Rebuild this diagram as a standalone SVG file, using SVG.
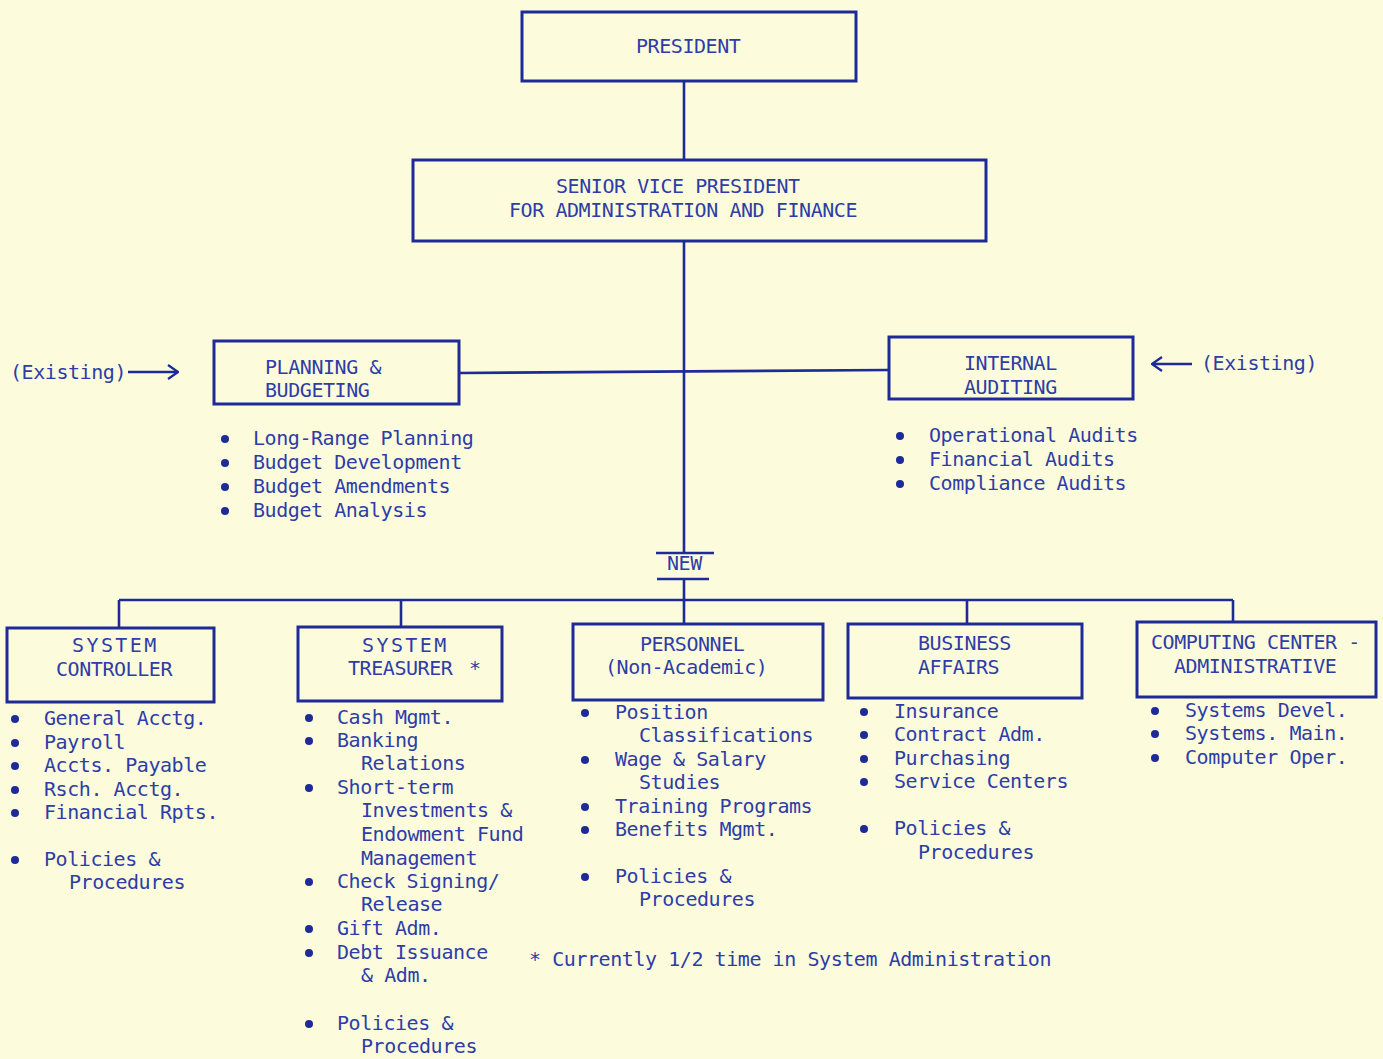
<svg xmlns="http://www.w3.org/2000/svg" width="1383" height="1059" viewBox="0 0 1383 1059">
<defs>
<style>
.bg{fill:#fcfcdc}
.box{fill:none;stroke:#1e2a98;stroke-width:3}
.ln{fill:none;stroke:#1e2a98;stroke-width:2.6}
text{font-family:"DejaVu Sans Mono","Liberation Mono",monospace;font-size:20px;letter-spacing:-0.44px;fill:#2e3ca8}
.sp{letter-spacing:2.4px}
.b{fill:#1e2a98}
</style>
<marker id="ah" viewBox="0 0 12 16" refX="11" refY="8" markerWidth="12" markerHeight="16" markerUnits="userSpaceOnUse" orient="auto">
<path d="M1,1 L11,8 L1,15" fill="none" stroke="#1e2a98" stroke-width="2.2"/>
</marker>
</defs>
<rect class="bg" x="0" y="0" width="1383" height="1059"/>

<g id="connectors">
<line class="ln" x1="684" y1="81" x2="684" y2="160"/>
<line class="ln" x1="684" y1="241" x2="684" y2="553"/>
<line class="ln" x1="459" y1="373" x2="889" y2="370"/>
<line class="ln" x1="656" y1="553" x2="714" y2="553"/>
<line class="ln" x1="657" y1="579" x2="709" y2="579"/>
<line class="ln" x1="684" y1="579" x2="684" y2="624"/>
<line class="ln" x1="119" y1="600" x2="1233" y2="600"/>
<line class="ln" x1="119" y1="600" x2="119" y2="628"/>
<line class="ln" x1="401" y1="600" x2="401" y2="627"/>
<line class="ln" x1="967" y1="600" x2="967" y2="624"/>
<line class="ln" x1="1233" y1="600" x2="1233" y2="622"/>
<line class="ln" x1="128" y1="372" x2="178" y2="372" marker-end="url(#ah)"/>
<line class="ln" x1="1192" y1="364" x2="1152" y2="364" marker-end="url(#ah)"/>
</g>
<text x="667" y="570">NEW</text>
<text x="10" y="379">(Existing)</text>
<text x="1201" y="370">(Existing)</text>

<g id="president">
<rect class="box" x="522" y="12" width="334" height="69"/>
<text x="636" y="53">PRESIDENT</text>
</g>

<g id="svp">
<rect class="box" x="413" y="160" width="573" height="81"/>
<text x="556" y="193">SENIOR VICE PRESIDENT</text>
<text x="509" y="217">FOR ADMINISTRATION AND FINANCE</text>
</g>

<g id="planning">
<rect class="box" x="214" y="341" width="245" height="63"/>
<text x="265" y="374">PLANNING &amp;</text>
<text x="265" y="397">BUDGETING</text>
<circle class="b" cx="225" cy="439" r="4"/>
<circle class="b" cx="225" cy="463" r="4"/>
<circle class="b" cx="225" cy="487" r="4"/>
<circle class="b" cx="225" cy="511" r="4"/>
<text x="253" y="445">Long-Range Planning</text>
<text x="253" y="469">Budget Development</text>
<text x="253" y="493">Budget Amendments</text>
<text x="253" y="517">Budget Analysis</text>
</g>

<g id="auditing">
<rect class="box" x="889" y="337" width="244" height="62"/>
<text x="964" y="370">INTERNAL</text>
<text x="964" y="394">AUDITING</text>
<circle class="b" cx="900" cy="436" r="4"/>
<circle class="b" cx="900" cy="460" r="4"/>
<circle class="b" cx="900" cy="484" r="4"/>
<text x="929" y="442">Operational Audits</text>
<text x="929" y="466">Financial Audits</text>
<text x="929" y="490">Compliance Audits</text>
</g>

<g id="controller">
<rect class="box" x="7" y="628" width="207" height="74"/>
<text class="sp" x="72" y="652">SYSTEM</text>
<text x="56" y="676">CONTROLLER</text>
<circle class="b" cx="15" cy="719" r="4"/>
<circle class="b" cx="15" cy="743" r="4"/>
<circle class="b" cx="15" cy="766" r="4"/>
<circle class="b" cx="15" cy="790" r="4"/>
<circle class="b" cx="15" cy="813" r="4"/>
<circle class="b" cx="15" cy="860" r="4"/>
<text x="44" y="725">General Acctg.</text>
<text x="44" y="749">Payroll</text>
<text x="44" y="772">Accts. Payable</text>
<text x="44" y="796">Rsch. Acctg.</text>
<text x="44" y="819">Financial Rpts.</text>
<text x="44" y="866">Policies &amp;</text>
<text x="69" y="889">Procedures</text>
</g>

<g id="treasurer">
<rect class="box" x="298" y="627" width="204" height="74"/>
<text class="sp" x="362" y="652">SYSTEM</text>
<text x="348" y="675">TREASURER</text>
<text x="469" y="675">*</text>
<circle class="b" cx="309" cy="718" r="4"/>
<circle class="b" cx="309" cy="741" r="4"/>
<circle class="b" cx="309" cy="788" r="4"/>
<circle class="b" cx="309" cy="882" r="4"/>
<circle class="b" cx="309" cy="929" r="4"/>
<circle class="b" cx="309" cy="953" r="4"/>
<circle class="b" cx="309" cy="1024" r="4"/>
<text x="337" y="724">Cash Mgmt.</text>
<text x="337" y="747">Banking</text>
<text x="361" y="770">Relations</text>
<text x="337" y="794">Short-term</text>
<text x="361" y="817">Investments &amp;</text>
<text x="361" y="841">Endowment Fund</text>
<text x="361" y="865">Management</text>
<text x="337" y="888">Check Signing/</text>
<text x="361" y="911">Release</text>
<text x="337" y="935">Gift Adm.</text>
<text x="337" y="959">Debt Issuance</text>
<text x="361" y="982">&amp; Adm.</text>
<text x="337" y="1030">Policies &amp;</text>
<text x="361" y="1053">Procedures</text>
</g>

<g id="personnel">
<rect class="box" x="573" y="624" width="250" height="76"/>
<text x="640" y="651">PERSONNEL</text>
<text x="605" y="674">(Non-Academic)</text>
<circle class="b" cx="585" cy="713" r="4"/>
<circle class="b" cx="585" cy="760" r="4"/>
<circle class="b" cx="585" cy="807" r="4"/>
<circle class="b" cx="585" cy="830" r="4"/>
<circle class="b" cx="585" cy="877" r="4"/>
<text x="615" y="719">Position</text>
<text x="639" y="742">Classifications</text>
<text x="615" y="766">Wage &amp; Salary</text>
<text x="639" y="789">Studies</text>
<text x="615" y="813">Training Programs</text>
<text x="615" y="836">Benefits Mgmt.</text>
<text x="615" y="883">Policies &amp;</text>
<text x="639" y="906">Procedures</text>
</g>

<g id="business">
<rect class="box" x="848" y="624" width="234" height="74"/>
<text x="918" y="650">BUSINESS</text>
<text x="918" y="674">AFFAIRS</text>
<circle class="b" cx="864" cy="712" r="4"/>
<circle class="b" cx="864" cy="735" r="4"/>
<circle class="b" cx="864" cy="759" r="4"/>
<circle class="b" cx="864" cy="782" r="4"/>
<circle class="b" cx="864" cy="829" r="4"/>
<text x="894" y="718">Insurance</text>
<text x="894" y="741">Contract Adm.</text>
<text x="894" y="765">Purchasing</text>
<text x="894" y="788">Service Centers</text>
<text x="894" y="835">Policies &amp;</text>
<text x="918" y="859">Procedures</text>
</g>

<g id="computing">
<rect class="box" x="1137" y="622" width="239" height="75"/>
<text x="1151" y="649">COMPUTING CENTER -</text>
<text x="1174" y="673">ADMINISTRATIVE</text>
<circle class="b" cx="1155" cy="711" r="4"/>
<circle class="b" cx="1155" cy="734" r="4"/>
<circle class="b" cx="1155" cy="758" r="4"/>
<text x="1185" y="717">Systems Devel.</text>
<text x="1185" y="740">Systems. Main.</text>
<text x="1185" y="764">Computer Oper.</text>
</g>

<text x="529" y="966">* Currently 1/2 time in System Administration</text>
</svg>
